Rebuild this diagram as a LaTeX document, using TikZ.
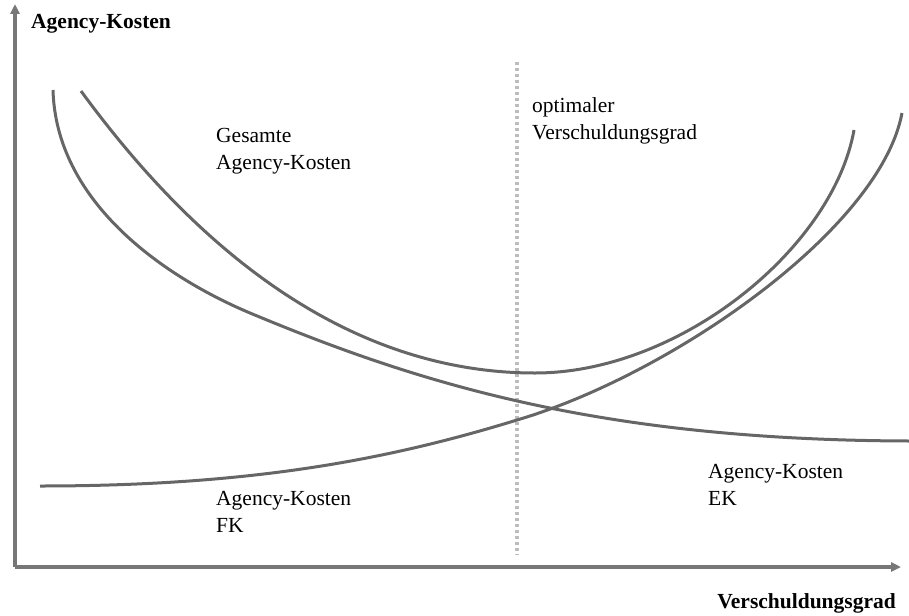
\documentclass[tikz,border=0pt]{standalone}
\usepackage{fontspec}
\setmainfont{Liberation Serif}
\usetikzlibrary{arrows.meta}
\definecolor{curvecol}{HTML}{666666}
\definecolor{axiscol}{HTML}{777777}
\definecolor{dotcol}{HTML}{BDBDBD}
\begin{document}
\begin{tikzpicture}[x=1pt,y=-1pt,
  lbl/.style={anchor=base west,inner sep=0pt,font=\fontsize{21.5}{27}\selectfont},
  boldlbl/.style={lbl,font=\fontsize{21.5}{27}\selectfont\bfseries},
  axisline/.style={draw=axiscol,line width=3.4pt,-{Triangle[length=10pt,width=9pt]}},
  costcurve/.style={draw=curvecol,line width=3pt},
  optline/.style={draw=dotcol,line width=3.2pt,dash pattern=on 3pt off 3pt}]
\useasboundingbox (0,0) rectangle (909,615);
% axes
\coordinate (origin) at (15,567);
\coordinate (ytip) at (15,4);
\coordinate (xtip) at (901,567);
\draw[axisline] (origin) -- (ytip);
\draw[axisline] (origin) -- (xtip);
% optimum line
\coordinate (opttop) at (517,62);
\coordinate (optbot) at (517,555);
\draw[optline] (opttop) -- (optbot);
% total agency costs
\coordinate (t0) at (81,91);
\coordinate (tmin) at (535,373);
\coordinate (t1) at (854,130);
\draw[costcurve] (t0) .. controls (225,288) and (380,373) .. (tmin)
  .. controls (680,373) and (833,248) .. (t1);
% equity agency costs (decreasing)
\coordinate (e0) at (53,90);
\coordinate (em) at (250,313);
\coordinate (e1) at (909,441);
\draw[costcurve] (e0) .. controls (56,200) and (160,275) .. (em)
  .. controls (420,384) and (600,440) .. (e1);
% debt agency costs (increasing)
\coordinate (f0) at (40,486);
\coordinate (fm) at (517,420);
\coordinate (f1) at (902,113);
\draw[costcurve] (f0) .. controls (250,486) and (387,460) .. (fm)
  .. controls (670,375) and (880,230) .. (f1);
% labels
\node[boldlbl] (ylabel) at (31,29) {Agency-Kosten};
\node[boldlbl,anchor=base east] (xlabel) at (896,608) {Verschuldungsgrad};
\node[lbl] (gesamt) at (216,142) {\begin{tabular}[t]{@{}l@{}}Gesamte\\Agency-Kosten\end{tabular}};
\node[lbl] (optimal) at (532,113) {\begin{tabular}[t]{@{}l@{}}optimaler\\Verschuldungsgrad\end{tabular}};
\node[lbl] (ek) at (708,478) {\begin{tabular}[t]{@{}l@{}}Agency-Kosten\\EK\end{tabular}};
\node[lbl] (fk) at (216,505) {\begin{tabular}[t]{@{}l@{}}Agency-Kosten\\FK\end{tabular}};
\end{tikzpicture}
\end{document}
